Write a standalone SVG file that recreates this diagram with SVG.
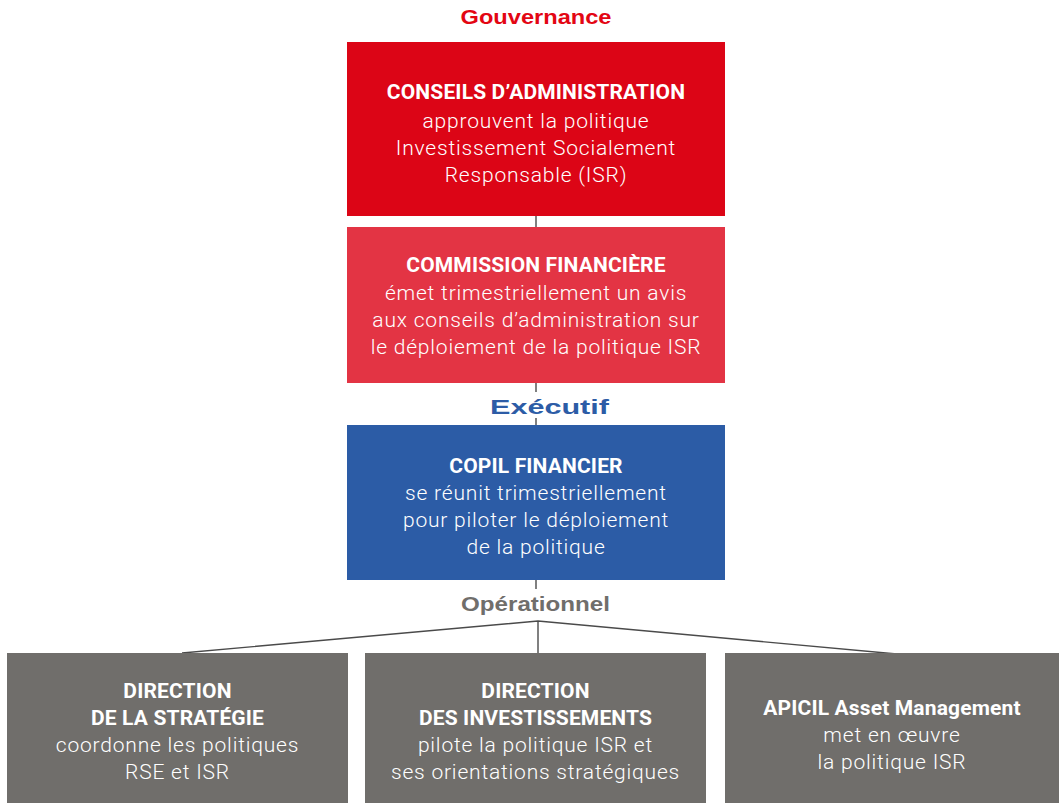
<svg xmlns="http://www.w3.org/2000/svg" width="1059" height="803" viewBox="0 0 1059 803">
<style>
.bg{fill:#ffffff}
.t{font-family:Roboto,"Liberation Sans",sans-serif;font-size:21px;font-weight:700;fill:#ffffff;text-anchor:middle;letter-spacing:0.15px}
.b{font-family:Roboto,"Liberation Sans",sans-serif;font-size:21px;font-weight:300;fill:#ffffff;text-anchor:middle;letter-spacing:0.8px}
.lbl{font-family:"Liberation Sans",Arial,sans-serif;font-size:21px;font-weight:700;text-anchor:middle}
.c{stroke:#4a4a4a;stroke-width:1.4;fill:none}
</style>
<rect class="bg" x="0" y="0" width="1059" height="803"/>
<text class="lbl" x="536" y="24" fill="#e30613" textLength="151" lengthAdjust="spacingAndGlyphs">Gouvernance</text>
<text class="lbl" x="549.5" y="414" fill="#2c5ca6" textLength="119" lengthAdjust="spacingAndGlyphs">Exécutif</text>
<text class="lbl" x="535.5" y="611" fill="#706e6b" textLength="149" lengthAdjust="spacingAndGlyphs">Opérationnel</text>
<g id="connectors">
<line class="c" x1="536" y1="216" x2="536" y2="227"/>
<line class="c" x1="536" y1="383" x2="536" y2="392"/>
<line class="c" x1="536" y1="418" x2="536" y2="425"/>
<line class="c" x1="536" y1="580" x2="536" y2="589"/>
<polyline class="c" points="182,653 538,621 897,654"/>
<line class="c" x1="538" y1="621" x2="538" y2="653"/>
</g>
<g id="conseils">
<rect x="347" y="42" width="378" height="174" fill="#dc0516"/>
<text class="t" x="536" y="99">CONSEILS D’ADMINISTRATION</text>
<text class="b" x="536" y="128">approuvent la politique</text>
<text class="b" x="536" y="155">Investissement Socialement</text>
<text class="b" x="536" y="182">Responsable (ISR)</text>
</g>
<g id="commission">
<rect x="347" y="227" width="378" height="156" fill="#e33444"/>
<text class="t" x="536" y="272">COMMISSION FINANCIÈRE</text>
<text class="b" x="536" y="300">émet trimestriellement un avis</text>
<text class="b" x="536" y="327">aux conseils d’administration sur</text>
<text class="b" x="536" y="354">le déploiement de la politique ISR</text>
</g>
<g id="copil">
<rect x="347" y="425" width="378" height="155" fill="#2c5ca6"/>
<text class="t" x="536" y="473">COPIL FINANCIER</text>
<text class="b" x="536" y="500">se réunit trimestriellement</text>
<text class="b" x="536" y="527">pour piloter le déploiement</text>
<text class="b" x="536" y="554">de la politique</text>
</g>
<g id="direction-strategie">
<rect x="7" y="653" width="341" height="150" fill="#706e6b"/>
<text class="t" x="177.5" y="698">DIRECTION</text>
<text class="t" x="177.5" y="725">DE LA STRATÉGIE</text>
<text class="b" x="177.5" y="752">coordonne les politiques</text>
<text class="b" x="177.5" y="779">RSE et ISR</text>
</g>
<g id="direction-investissements">
<rect x="365" y="653" width="341" height="150" fill="#706e6b"/>
<text class="t" x="535.5" y="698">DIRECTION</text>
<text class="t" x="535.5" y="725">DES INVESTISSEMENTS</text>
<text class="b" x="535.5" y="752">pilote la politique ISR et</text>
<text class="b" x="535.5" y="779">ses orientations stratégiques</text>
</g>
<g id="apicil">
<rect x="725" y="653" width="334" height="150" fill="#706e6b"/>
<text class="t" x="892" y="715">APICIL Asset Management</text>
<text class="b" x="892" y="742">met en œuvre</text>
<text class="b" x="892" y="769">la politique ISR</text>
</g>
</svg>
